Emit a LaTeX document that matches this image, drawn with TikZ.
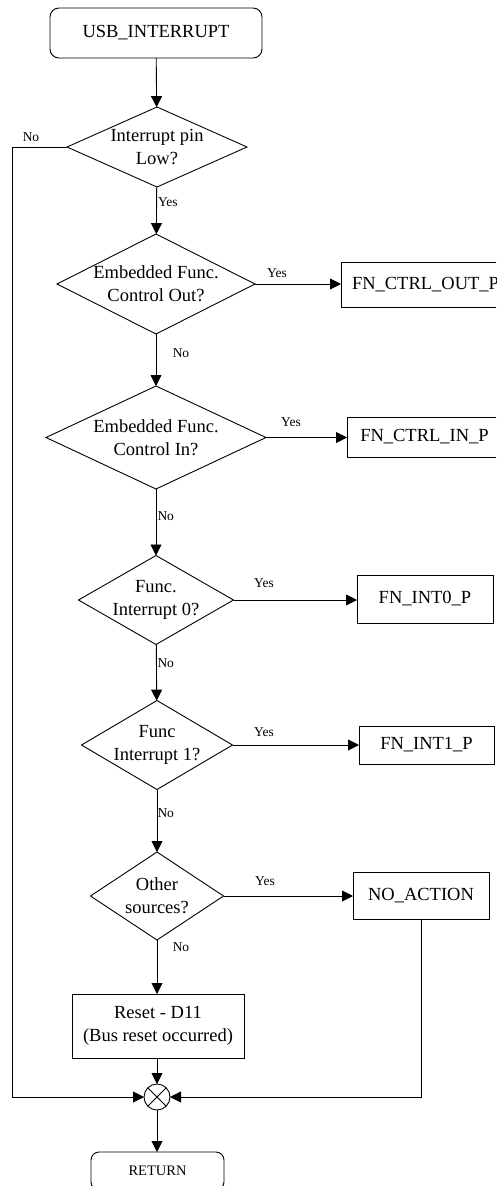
\documentclass[tikz,border=0pt]{standalone}
\usepackage{fontspec}
\setmainfont{Liberation Serif}
\usetikzlibrary{shapes.geometric,arrows.meta}
\begin{document}
\begin{tikzpicture}[x=1pt,y=-1pt,
  line width=0.9pt,
  every node/.style={outer sep=0pt, inner sep=0pt},
  big/.style={font=\fontsize{18.5}{23}\selectfont},
  lbl/.style={font=\fontsize{13.5}{16}\selectfont},
  dec/.style={diamond, draw},
  proc/.style={rectangle, draw, big},
  term/.style={rectangle, draw, rounded corners=9pt},
  flow/.style={-{Triangle[length=11pt,width=11pt]}}]
\useasboundingbox (0,0) rectangle (496,1186);
\clip (0,0) rectangle (496,1186);

% start
\node[term, big, minimum width=212, minimum height=50] (start) at (156,33) {USB\_INTERRUPT};

% decisions
\node[dec, minimum width=180, minimum height=80] (d1) at (157,147)
  {}; \node[big, align=center] (t1) at (d1.center) {Interrupt pin\\Low?};
\node[dec, minimum width=198, minimum height=100] (d2) at (156,284)
  {}; \node[big, align=center] (t2) at (d2.center) {Embedded Func.\\Control Out?};
\node[dec, minimum width=220, minimum height=103] (d3) at (156,437.5)
  {}; \node[big, align=center] (t3) at (d3.center) {Embedded Func.\\Control In?};
\node[dec, minimum width=155, minimum height=89] (d4) at (156,600)
  {}; \node[big, align=center] (t4) at (d4.center) {Func.\\Interrupt 0?};
\node[dec, minimum width=151, minimum height=89] (d5) at (157,745)
  {}; \node[big, align=center] (t5) at (d5.center) {Func\\Interrupt 1?};
\node[dec, minimum width=133, minimum height=88] (d6) at (157,896)
  {}; \node[big, align=center] (t6) at (d6.center) {Other\\sources?};

% process boxes
\node[proc, minimum width=169, minimum height=45] (p1) at (425.5,284.5) {FN\_CTRL\_OUT\_P};
\node[proc, minimum width=155, minimum height=40] (p2) at (424.5,437) {FN\_CTRL\_IN\_P};
\node[proc, minimum width=136, minimum height=48] (p3) at (425,599) {FN\_INT0\_P};
\node[proc, minimum width=135, minimum height=38] (p4) at (426.5,745) {FN\_INT1\_P};
\node[proc, minimum width=136, minimum height=47] (p5) at (421,895.5) {NO\_ACTION};
\node[proc, minimum width=172, minimum height=64, align=center] (reset) at (158,1026) {Reset - D11\\(Bus reset occurred)};

% merge
\node[circle, draw, minimum size=26] (m) at (157,1097) {};
\draw (m.45) -- (m.225) (m.135) -- (m.315);

% end
\node[term, rounded corners=8pt, minimum width=133, minimum height=38,
  font=\fontsize{14.5}{17}\selectfont] (ret) at (157.5,1171) {RETURN};

% connectors
\draw[flow] (start) -- (d1);
\draw[flow] (d1) -- (d2);
\draw[flow] (d2) -- (d3);
\draw[flow] (d3) -- (d4);
\draw[flow] (d4) -- (d5);
\draw[flow] (d5) -- (d6);
\draw[flow] (d6.south) -- (d6.south |- reset.north);
\draw[flow] (reset.south -| m) -- (m.north);
\draw[flow] (m) -- (m |- ret.north);

\draw[flow] (d2.east) -- (d2.east -| p1.west);
\draw[flow] (d3.east) -- (d3.east -| p2.west);
\draw[flow] (d4.east) -- (d4.east -| p3.west);
\draw[flow] (d5.east) -- (d5.east -| p4.west);
\draw[flow] (d6.east) -- (d6.east -| p5.west);

\coordinate (lc) at (12,1097);
\draw[flow] (d1.west) -| (lc) -- (m.west);
\draw[flow] (p5.south) |- (m.east);

% labels
\node[lbl] (n1) at (31,137) {No};
\node[lbl, anchor=west] (y1) at (158,202) {Yes};
\node[lbl] (y2) at (277,273) {Yes};
\node[lbl] (n2) at (181,353) {No};
\node[lbl] (y3) at (291,422) {Yes};
\node[lbl, anchor=west] (n3) at (157.5,516) {No};
\node[lbl] (y4) at (264,583) {Yes};
\node[lbl, anchor=west] (n4) at (157.5,663) {No};
\node[lbl] (y5) at (264,732) {Yes};
\node[lbl, anchor=west] (n5) at (157.5,813) {No};
\node[lbl] (y6) at (265,881) {Yes};
\node[lbl] (n6) at (181,947) {No};
\end{tikzpicture}
\end{document}
